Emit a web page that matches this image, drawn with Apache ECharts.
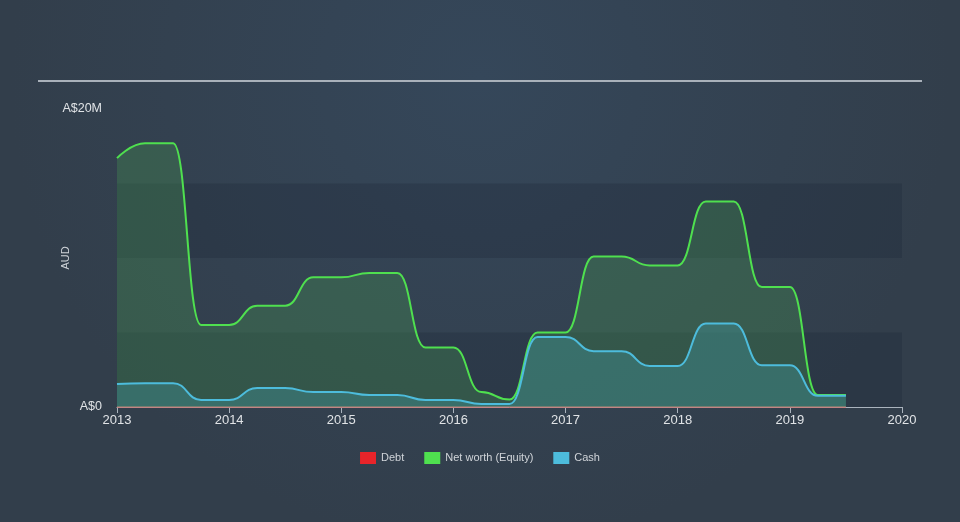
<!DOCTYPE html>
<html><head><meta charset="utf-8">
<script src="https://cdn.jsdelivr.net/npm/echarts@6/dist/echarts.min.js"></script>
<style>html,body{margin:0;padding:0;background:#333f4d}#c{width:960px;height:522px}</style>
</head><body><div id="c"></div>
<script>
var dates = [2013.0,2013.25,2013.5,2013.75,2014.0,2014.25,2014.5,2014.75,2015.0,2015.25,2015.5,2015.75,2016.0,2016.25,2016.5,2016.75,2017.0,2017.25,2017.5,2017.75,2018.0,2018.25,2018.5,2018.75,2019.0,2019.25,2019.5];
var equity = [16.7,17.7,17.7,5.5,5.5,6.8,6.8,8.7,8.7,9.0,9.0,4.0,4.0,1.0,0.5,5.0,5.0,10.1,10.1,9.5,9.5,13.8,13.8,8.05,8.05,0.8,0.8];
var cash = [1.55,1.6,1.6,0.47,0.47,1.27,1.27,1.0,1.0,0.8,0.8,0.47,0.47,0.2,0.2,4.7,4.7,3.75,3.75,2.75,2.75,5.6,5.6,2.8,2.8,0.75,0.75];
var debt = [0,0,0,0,0,0,0,0,0,0,0,0,0,0,0,0,0,0,0,0,0,0,0,0,0,0,0];
var yTicks = {0:'A$0', 20:'A$20M'};
function pairs(v){return dates.map(function(d,i){return [d,v[i]];});}
var chart = echarts.init(document.getElementById('c'));
chart.setOption({
  backgroundColor:{type:'radial',x:0.5,y:0.15,r:0.9,colorStops:[{offset:0,color:'#35475a'},{offset:1,color:'#323e4b'}]},
  animation:false,
  textStyle:{fontFamily:'Liberation Sans, Arial, sans-serif'},
  grid:{left:117,right:58,top:109,bottom:115},
  graphic:[{type:'line',shape:{x1:38,y1:81,x2:922,y2:81},style:{stroke:'#a9b1ba',lineWidth:2}}],
  legend:{bottom:53,left:'center',itemWidth:16,itemHeight:12,itemGap:20,icon:'rect',
    textStyle:{color:'#d0d4d9',fontSize:11},
    data:['Debt','Net worth (Equity)','Cash']},
  xAxis:{type:'value',min:2013,max:2020,interval:1,
    axisLine:{lineStyle:{color:'#aab3bd',width:1}},
    axisTick:{show:true,length:6,lineStyle:{color:'#aab3bd'}},
    axisLabel:{color:'#e0e3e6',fontSize:13,margin:7,formatter:function(v){return String(v);}},
    splitLine:{show:false}},
  yAxis:{type:'value',min:0,max:20,interval:5,
    name:'AUD',nameLocation:'middle',nameGap:46,nameRotate:90,nameMoveOverlap:false,
    nameTextStyle:{color:'#d0d4d9',fontSize:11},
    axisLine:{show:false},axisTick:{show:false},
    axisLabel:{color:'#e0e3e6',fontSize:12.5,margin:15,formatter:function(v){return yTicks[v]||'';}},
    splitLine:{show:false},
    splitArea:{show:true,areaStyle:{color:['rgba(30,40,55,0.3)','rgba(0,0,0,0)']}}},
  series:[
    {name:'Debt',type:'line',data:pairs(debt),showSymbol:false,color:'#e8242a',
      lineStyle:{width:1.5,color:'#d8605a'},z:1},
    {name:'Net worth (Equity)',type:'line',data:pairs(equity),showSymbol:false,smooth:0.5,smoothMonotone:'x',
      color:'#4fe04f',lineStyle:{width:2,color:'#4fe04f'},areaStyle:{color:'rgba(72,160,80,0.42)'},z:2},
    {name:'Cash',type:'line',data:pairs(cash),showSymbol:false,smooth:0.5,smoothMonotone:'x',
      color:'#4dbcdc',lineStyle:{width:2,color:'#4dbcdc'},areaStyle:{color:'rgba(70,165,175,0.45)'},z:3}
  ]
});
</script></body></html>
